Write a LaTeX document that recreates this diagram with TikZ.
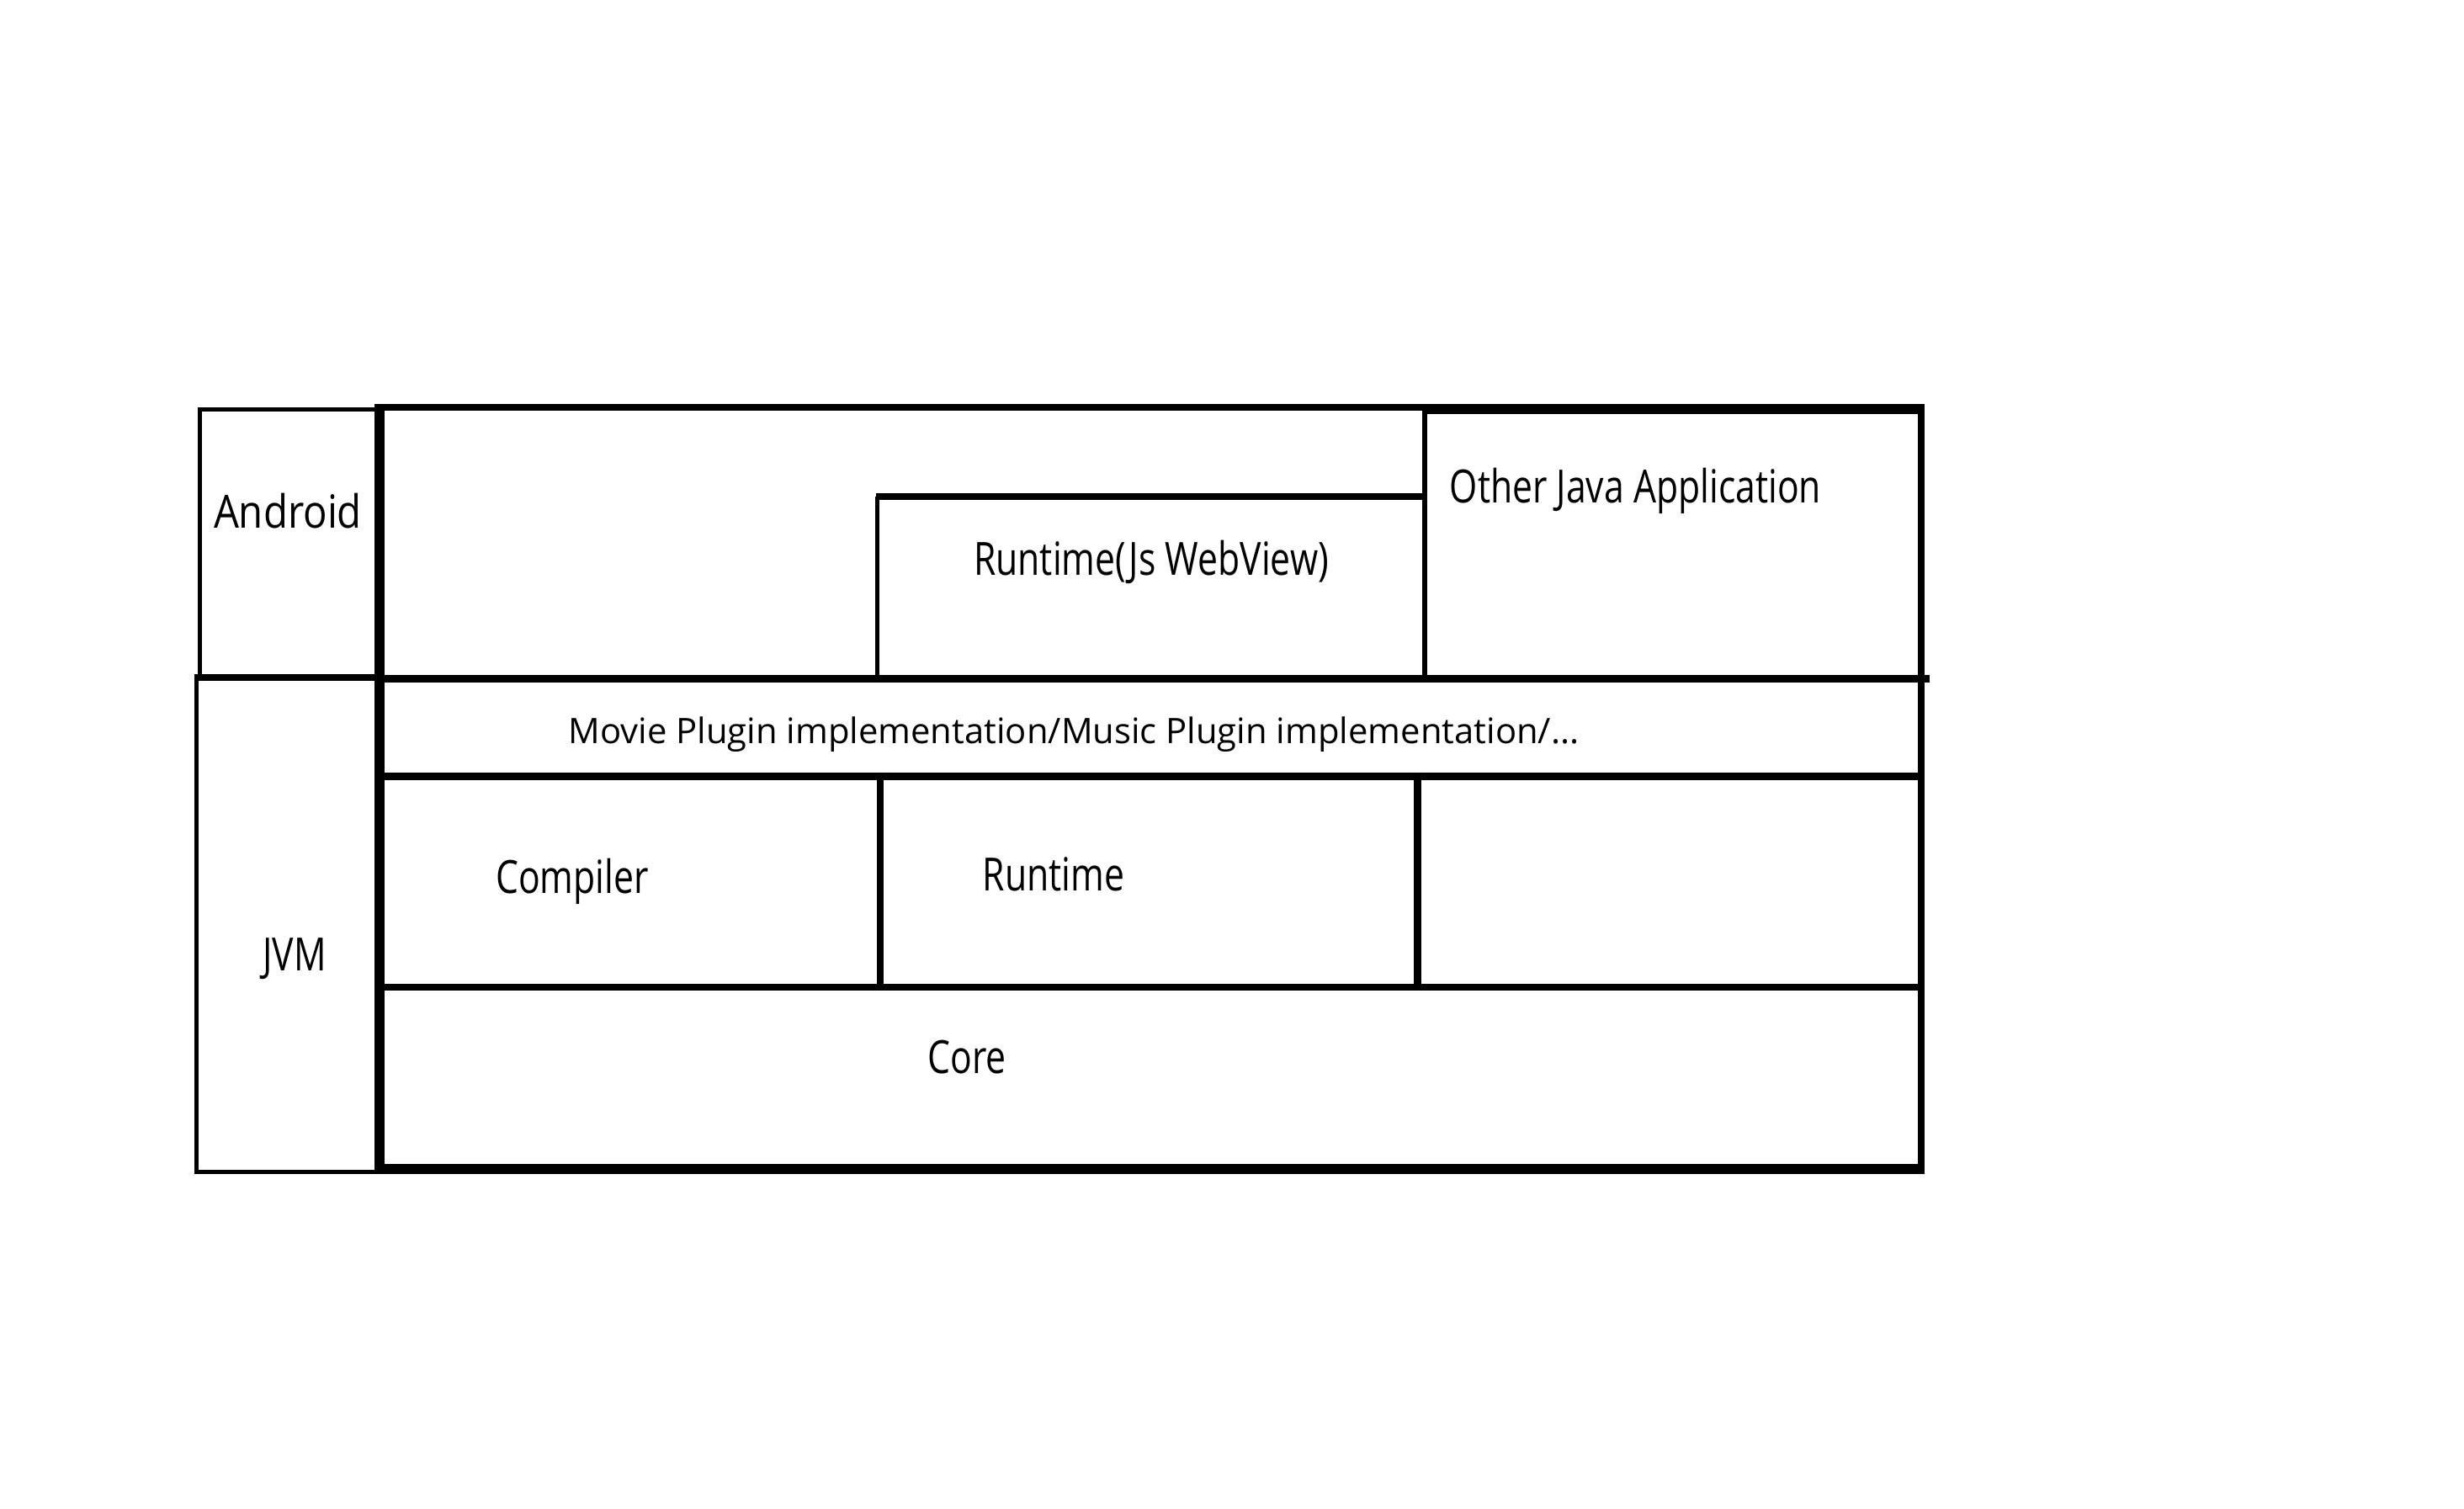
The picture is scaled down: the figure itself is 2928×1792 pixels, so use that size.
\documentclass[tikz,border=0pt]{standalone}
\usepackage{fontspec}
\setmainfont{Open Sans}
\newfontfamily\labfont[FakeStretch=0.785]{Open Sans}
\newfontfamily\labwidefont[FakeStretch=0.87]{Open Sans}
\begin{document}
\begin{tikzpicture}[x=0.25pt,y=-0.25pt,
  lnthin/.style={line width=1.25pt,draw=black},
  lnmed/.style={line width=2pt,draw=black},
  lnthick/.style={line width=3pt,draw=black},
  lab/.style={inner sep=0pt,anchor=base,font=\labfont\fontsize{13.6pt}{16pt}\selectfont},
  labwide/.style={inner sep=0pt,anchor=base,font=\labwidefont\fontsize{13.6pt}{16pt}\selectfont},
  movlab/.style={inner sep=0pt,anchor=base,font=\fontsize{10.44pt}{13pt}\selectfont}]
\useasboundingbox (0,0) rectangle (2928,1792);
% side boxes
\draw[lnthin] (451,486) -- (237,486) -- (237,806) -- (451,806);
\draw[lnthin] (451,803) -- (233,803) -- (233,1392) -- (451,1392);
% inner boxes of the top row
\draw[lnthin] (1042.5,806) -- (1042.5,590);
\draw[lnmed] (1041,590) -- (1692.5,590);
\draw[line width=1.5pt] (1692.5,806) -- (1692.5,486);
\draw[lnthick] (1692.5,486) -- (2287,486);
% row lines
\draw[line width=2.25pt] (451,806) -- (2293,806);
\draw[line width=2.25pt] (451,922) -- (2283,922);
\draw[lnmed] (451,1173) -- (2283,1173);
\draw[lnmed] (1046,922) -- (1046,1173);
\draw[line width=2.25pt] (1684.5,922) -- (1684.5,1173);
% main frame
\draw[lnmed] (451,484) -- (2287,484);
\draw[lnmed] (2283,480) -- (2283,1395);
\draw[lnthick] (2287,1389) -- (451,1389);
\draw[lnthick] (451,1395) -- (451,480);
% labels
\node[labwide] (android) at (342,627) {Android};
\node[lab] (jsrt) at (1368,683) {Runtime(Js WebView)};
\node[lab,anchor=base west] (otherjava) at (1722,597) {Other Java Application};
\node[movlab] (plugins) at (1276,883) {Movie Plugin implementation/Music Plugin implementation/...};
\node[lab] (compiler) at (680,1061) {Compiler};
\node[lab] (runtime) at (1252,1058) {Runtime};
\node[lab] (jvm) at (350,1153) {JVM};
\node[lab] (core) at (1149,1275) {Core};
\end{tikzpicture}
\end{document}
